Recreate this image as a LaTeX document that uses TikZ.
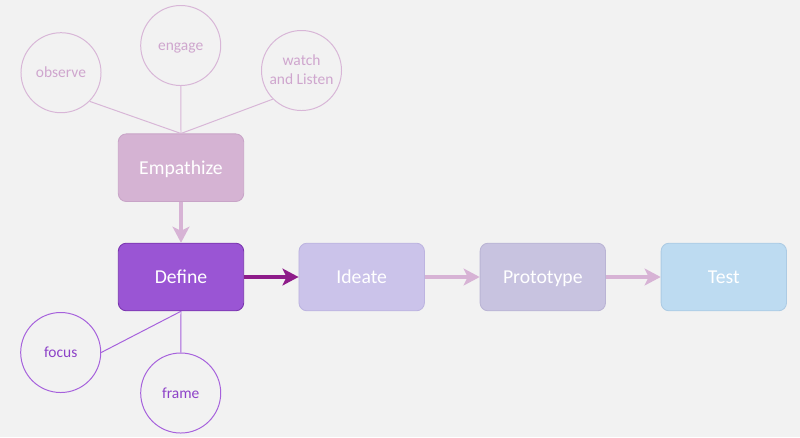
\documentclass[tikz,border=0pt]{standalone}
\usepackage{fontspec}
\setmainfont{Carlito}
\usetikzlibrary{arrows.meta}
\definecolor{bg}{HTML}{F2F2F2}
\definecolor{empfill}{HTML}{D5B3D3}
\definecolor{empline}{HTML}{C8A4C7}
\definecolor{deffill}{HTML}{9A55D4}
\definecolor{defline}{HTML}{7A35AE}
\definecolor{ideafill}{HTML}{CBC3EA}
\definecolor{idealine}{HTML}{BDB4E0}
\definecolor{protofill}{HTML}{C8C3E0}
\definecolor{protoline}{HTML}{BAB4D4}
\definecolor{testfill}{HTML}{BDDBF1}
\definecolor{testline}{HTML}{ACCBE4}
\definecolor{toprim}{HTML}{D8B6D7}
\definecolor{toptext}{HTML}{CFA6CE}
\definecolor{botrim}{HTML}{A661DC}
\definecolor{bottext}{HTML}{8D42C8}
\definecolor{arrlight}{HTML}{D7B3D5}
\definecolor{arrdark}{HTML}{8E1C8A}

\begin{document}
\begin{tikzpicture}[x=0.025cm,y=-0.025cm,
    phase/.style={rounded corners=2mm,minimum width=3.135cm,minimum height=1.69cm,inner sep=0pt,line width=0.6pt,text=white,text height=0.9em,text depth=0pt,font=\fontsize{14}{17}\selectfont},
    idea/.style={circle,minimum size=2cm,inner sep=0pt,line width=0.7pt,align=center,text height=0.72em,text depth=0pt,font=\fontsize{11}{13.5}\selectfont},
    flow/.style={line width=2.2pt,-{Stealth[length=4mm,width=4.2mm,inset=1mm]}}]
    \fill[bg](0,0)rectangle(800,437);
    \useasboundingbox(0,0)rectangle(800,437);
    \node[phase,fill=empfill,draw=empline](emp) at (181,167.7){Empathize};
    \node[phase,fill=deffill,draw=defline](def) at (181,277){Define};
    \node[phase,fill=ideafill,draw=idealine](ideate) at (361.7,277){Ideate};
    \node[phase,fill=protofill,draw=protoline](proto) at (542.8,277){Prototype};
    \node[phase,fill=testfill,draw=testline](test) at (723.8,277){Test};
    \node[idea,draw=toprim,text=toptext](observe) at (61,72.7){observe};
    \node[idea,draw=toprim,text=toptext](engage) at (180.7,45.5){engage};
    \node[idea,draw=toprim,text=toptext,text height=2em](watch) at (301.5,70.5){watch\\and Listen};
    \node[idea,draw=botrim,text=bottext](focus) at (60.7,352.5){focus};
    \node[idea,draw=botrim,text=bottext](frame) at (180.7,393){frame};
    \draw[toprim,line width=0.7pt](observe.south east)--(emp.north);
    \draw[toprim,line width=0.7pt](engage)--(emp.north);
    \draw[toprim,line width=0.7pt](watch.south west)--(emp.north);
    \draw[botrim,line width=0.7pt](def.south)--(focus.east);
    \draw[botrim,line width=0.7pt](def.south)--(frame);
    \draw[flow,arrlight](emp)--(def);
    \draw[flow,arrdark](def)--(ideate);
    \draw[flow,arrlight](ideate)--(proto);
    \draw[flow,arrlight](proto)--(test);
\end{tikzpicture}
\end{document}
